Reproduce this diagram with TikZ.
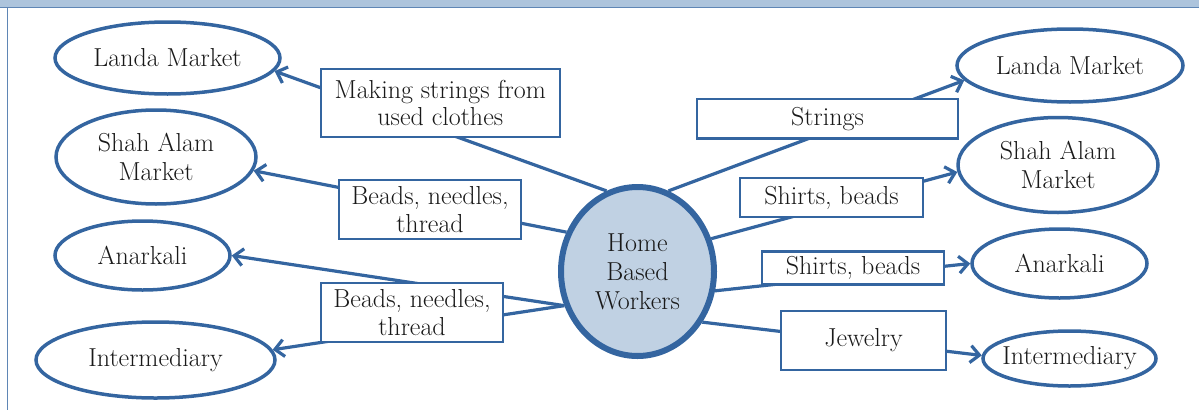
\documentclass[tikz,border=0pt]{standalone}
\usetikzlibrary{shapes.geometric,arrows.meta}
\definecolor{linkblue}{RGB}{52,101,160}
\definecolor{hubfill}{RGB}{192,209,227}
\definecolor{barfill}{RGB}{173,196,220}
\definecolor{framecol}{RGB}{95,134,181}
\begin{document}
\begin{tikzpicture}[x=1pt,y=-1pt,
		>={Straight Barb[length=9pt,width=17pt]},
		market/.style={ellipse,draw=linkblue,line width=3.5pt,inner xsep=-20pt,inner ysep=0pt,align=center,text=black!90,font=\fontsize{26}{28.5}\selectfont},
		hub/.style={ellipse,draw=linkblue,fill=hubfill,line width=6pt,inner sep=0pt,align=center,text=black!90,font=\fontsize{26}{29}\selectfont},
		itembox/.style={rectangle,draw=linkblue,fill=white,line width=2.3pt,inner sep=0pt,align=center,text=black!90,font=\fontsize{26}{27.5}\selectfont},
		link/.style={draw=linkblue,line width=3.2pt}]
		\useasboundingbox (0,0) rectangle (1199,410);
		%
		\fill[barfill] (0,0) rectangle (1199,7.3);
		\draw[framecol,line width=1.5pt] (0,7.3) -- (1199,7.3);
		\draw[framecol,line width=1.3pt] (7.3,7.3) -- (7.3,410);
		%
		\node[hub,minimum width=153pt,minimum height=169pt] (hbw) at (637.5,271.5) {Home\\Based\\Workers};
		%
		\node[market,minimum width=225pt,minimum height=72pt] (lmL) at (167.5,58) {Landa Market};
		\node[market,minimum width=200pt,minimum height=94pt] (saL) at (156,157) {Shah Alam\\Market};
		\node[market,minimum width=175pt,minimum height=69pt] (anL) at (142.5,255.5) {Anarkali};
		\node[market,minimum width=239pt,minimum height=76pt] (imL) at (155.5,360) {Intermediary};
		%
		\node[market,minimum width=226pt,minimum height=73pt] (lmR) at (1070,65.5) {Landa Market};
		\node[market,minimum width=200pt,minimum height=95pt] (saR) at (1058,165) {Shah Alam\\Market};
		\node[market,minimum width=175pt,minimum height=69pt] (anR) at (1059.5,263.5) {Anarkali};
		\node[market,minimum width=173pt,minimum height=55pt] (imR) at (1069.5,358.5) {Intermediary};
		%
		\draw[link,->] (hbw.111) -- (lmL.-7);
		\draw[link,->] (hbw.151) -- (saL.-8);
		\draw[link,->] (hbw.205) -- (anL.0);
		\draw[link,->] (hbw.205) -- (imL.5);
		%
		\draw[link,->] (hbw.69) -- (lmR.188);
		\draw[link,->] (hbw.24) -- (saR.184);
		\draw[link,->] (hbw.-14) -- (anR.180);
		\draw[link,->] (hbw.-38) -- (imR.178);
		%
		\node[itembox,minimum width=239pt,minimum height=68pt] (mkstr) at (440.3,103) {Making strings from\\used clothes};
		\node[itembox,minimum width=182pt,minimum height=59pt] (bntA) at (430,209.5) {Beads, needles,\\thread};
		\node[itembox,minimum width=182pt,minimum height=59pt] (bntB) at (412,312.5) {Beads, needles,\\thread};
		%
		\node[itembox,minimum width=261pt,minimum height=39.5pt] (strs) at (827.5,118.8) {Strings};
		\node[itembox,minimum width=183pt,minimum height=39pt] (shbA) at (831.5,197.5) {Shirts, beads};
		\node[itembox,minimum width=182pt,minimum height=33pt] (shbB) at (853,268) {Shirts, beads};
		\node[itembox,minimum width=165pt,minimum height=59pt] (jwl) at (863.5,340.5) {Jewelry};
	\end{tikzpicture}
\end{document}
